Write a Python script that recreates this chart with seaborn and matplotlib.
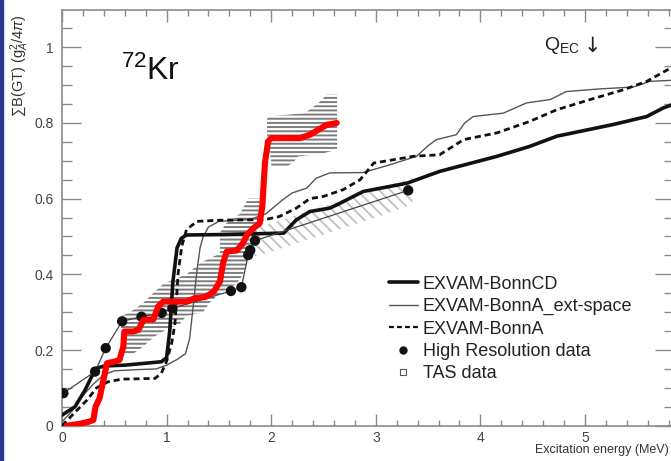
import numpy as np
import pandas as pd
import matplotlib
matplotlib.use("Agg")
import matplotlib.pyplot as plt
import seaborn as sns
from matplotlib.lines import Line2D
from matplotlib.patches import Rectangle

# ---------------- data ----------------
# TAS data (red curve)
tas_x = [0.045, 0.17, 0.25, 0.30, 0.32, 0.36, 0.395, 0.43, 0.51, 0.55, 0.586, 0.596, 0.68, 0.73,
         0.78, 0.873, 0.92, 0.968, 1.19, 1.27, 1.37, 1.45, 1.51, 1.54, 1.575, 1.67, 1.73, 1.766,
         1.83, 1.89, 1.915, 1.94, 1.97, 2.0, 2.275, 2.37, 2.45, 2.53, 2.626]
tas_y = [0.0, 0.005, 0.01, 0.015, 0.05, 0.073, 0.12, 0.165, 0.17, 0.174, 0.209, 0.249, 0.249, 0.253,
         0.28, 0.281, 0.315, 0.328, 0.328, 0.337, 0.34, 0.354, 0.381, 0.43, 0.46, 0.463, 0.482, 0.504,
         0.522, 0.535, 0.579, 0.694, 0.751, 0.76, 0.76, 0.769, 0.782, 0.795, 0.80]

# TAS error band (lower part): y levels with left / right limits
band1_y = [0.19, 0.21, 0.235, 0.255, 0.27, 0.29, 0.30, 0.325, 0.35, 0.375, 0.40, 0.43, 0.455,
           0.48, 0.51, 0.535, 0.56, 0.585, 0.60]
band1_xl = [0.59, 0.60, 0.60, 0.57, 0.55, 0.57, 0.65, 0.78, 0.87, 0.97, 1.19, 1.32, 1.51,
            1.51, 1.51, 1.57, 1.70, 1.75, 1.78]
band1_xr = [0.68, 0.78, 0.88, 1.0, 1.13, 1.19, 1.35, 1.41, 1.51, 1.67, 1.73, 1.77, 1.77,
            1.85, 1.86, 1.86, 1.89, 1.93, 1.96]
# TAS error band (upper part)
band2_y = [0.685, 0.698, 0.711, 0.72, 0.73, 0.81, 0.817, 0.826, 0.848, 0.86, 0.875]
band2_xl = [2.0, 2.0, 1.99, 2.0, 1.96, 1.96, 1.97, 2.32, 2.43, 2.48, 2.53]
band2_xr = [2.15, 2.22, 2.25, 2.5, 2.63, 2.63, 2.63, 2.63, 2.63, 2.63, 2.63]

# High resolution data band (diagonal hatch)
hrband_x = [1.75, 2.0, 2.5, 3.0, 3.35]
hrband_lo = [0.44, 0.46, 0.505, 0.55, 0.585]
hrband_hi = [0.52, 0.535, 0.58, 0.625, 0.655]

# High resolution data
hr_x = [0.013, 0.316, 0.418, 0.575, 0.76, 0.953, 1.055, 1.615, 1.715, 1.78, 1.80, 1.845, 3.31]
hr_y = [0.086, 0.143, 0.205, 0.276, 0.288, 0.298, 0.31, 0.356, 0.366, 0.451, 0.464, 0.489, 0.622]

# EXVAM-BonnCD
cd_x = [0, 0.124, 0.22, 0.284, 0.33, 0.41, 0.6, 0.95, 1.0, 1.03, 1.06, 1.1, 1.14, 1.19, 1.5,
        2.12, 2.24, 2.37, 2.56, 2.63, 2.88, 3.3, 3.61, 4.16, 4.47, 4.73, 5.27, 5.59, 5.75, 5.85]
cd_y = [0.028, 0.05, 0.094, 0.13, 0.152, 0.158, 0.16, 0.169, 0.18, 0.25, 0.38, 0.47, 0.495,
        0.504, 0.505, 0.509, 0.544, 0.566, 0.575, 0.584, 0.619, 0.641, 0.672, 0.712, 0.738,
        0.765, 0.796, 0.817, 0.84, 0.85]

# EXVAM-BonnA_ext-space
ext_x = [0, 0.1, 0.2, 0.3, 0.4, 0.5, 0.7, 0.9, 1.0, 1.1, 1.18, 1.22, 1.26, 1.29, 1.32, 1.35,
         1.4, 1.5, 1.8, 1.95, 2.1, 2.2, 2.34, 2.43, 2.56, 2.88, 3.14, 3.39, 3.5, 3.58, 3.77,
         3.85, 3.93, 4.22, 4.44, 4.67, 4.82, 5.14, 5.46, 5.62, 5.85]
ext_y = [0.01, 0.04, 0.08, 0.11, 0.135, 0.145, 0.148, 0.15, 0.16, 0.175, 0.19, 0.23, 0.33,
         0.41, 0.47, 0.5, 0.525, 0.54, 0.545, 0.56, 0.595, 0.615, 0.628, 0.654, 0.668, 0.669,
         0.69, 0.712, 0.74, 0.756, 0.769, 0.80, 0.817, 0.826, 0.853, 0.862, 0.883, 0.89, 0.895,
         0.91, 0.913]

# EXVAM-BonnA
ba_x = [0, 0.07, 0.14, 0.24, 0.33, 0.44, 0.57, 0.89, 0.95, 1.0, 1.05, 1.08, 1.11, 1.145, 1.19,
        1.29, 1.5, 1.77, 1.93, 2.08, 2.24, 2.37, 2.5, 2.69, 2.85, 2.98, 3.36, 3.61, 3.84, 4.16,
        4.47, 4.73, 5.05, 5.37, 5.59, 5.85]
ba_y = [0.0, 0.02, 0.04, 0.068, 0.1, 0.116, 0.123, 0.125, 0.139, 0.17, 0.22, 0.27, 0.403,
        0.474, 0.518, 0.54, 0.543, 0.544, 0.544, 0.553, 0.575, 0.60, 0.606, 0.624, 0.65, 0.694,
        0.712, 0.716, 0.756, 0.774, 0.804, 0.835, 0.862, 0.888, 0.91, 0.95]

legend_labels = ["EXVAM-BonnCD", "EXVAM-BonnA_ext-space", "EXVAM-BonnA",
                 "High Resolution data", "TAS data"]
x_ticks = [0, 1, 2, 3, 4, 5]
x_ticklabels = ["0", "1", "2", "3", "4", "5"]
y_ticks = [0, 0.2, 0.4, 0.6, 0.8, 1.0]
y_ticklabels = ["0", "0.2", "0.4", "0.6", "0.8", "1"]

# ---------------- style ----------------
sns.set_theme(style="white")
plt.rcParams["font.family"] = ["Liberation Sans", "DejaVu Sans"]
plt.rcParams["mathtext.fontset"] = "custom"
plt.rcParams["mathtext.rm"] = "Liberation Sans"
plt.rcParams["mathtext.it"] = "Liberation Sans:italic"
plt.rcParams["mathtext.bf"] = "Liberation Sans:bold"
plt.rcParams["hatch.linewidth"] = 1.4

W, H = 671, 461
fig = plt.figure(figsize=(W / 100, H / 100), dpi=100)
x0_px, x5_px = 62, 585
ppm = (x5_px - x0_px) / 5.0
right_px = 674
y0_px, y1_px, top_px = 425.7, 47.3, 10
ppu = y0_px - y1_px
ax = fig.add_axes([x0_px / W, (H - y0_px) / H, (right_px - x0_px) / W, (y0_px - top_px) / H])
xmax = (right_px - x0_px) / ppm
ymax = (y0_px - top_px) / ppu
ax.set_xlim(0, xmax)
ax.set_ylim(0, ymax)

# hatched bands
ax.fill_betweenx(band1_y, band1_xl, band1_xr, facecolor="none", edgecolor="#7c7c7c",
                 hatch="----", linewidth=0, zorder=1)
ax.fill_betweenx(band2_y, band2_xl, band2_xr, facecolor="none", edgecolor="#7c7c7c",
                 hatch="----", linewidth=0, zorder=1)
ax.fill_between(hrband_x, hrband_lo, hrband_hi, facecolor="none", edgecolor="#c4c4c4",
                hatch="\\\\\\", linewidth=0, zorder=1)

# model curves
sns.lineplot(x=ext_x, y=ext_y, ax=ax, color="#555555", lw=1.0, estimator=None, sort=False, zorder=3)
sns.lineplot(x=ba_x, y=ba_y, ax=ax, color="#111111", lw=2.0, linestyle=(0, (2.2, 1.4)),
             estimator=None, sort=False, zorder=3)
sns.lineplot(x=cd_x, y=cd_y, ax=ax, color="#111111", lw=2.6, estimator=None, sort=False, zorder=4)

# high resolution data
sns.lineplot(x=hr_x, y=hr_y, ax=ax, color="#444444", lw=0.9, estimator=None, sort=False, zorder=4)
sns.scatterplot(x=hr_x, y=hr_y, ax=ax, color="#111111", s=55, edgecolor="none", zorder=5)

# TAS red curve
sns.lineplot(x=tas_x, y=tas_y, ax=ax, color="#ff0000", lw=4.4, estimator=None, sort=False,
             zorder=6, solid_capstyle="round", solid_joinstyle="round")

# axes / ticks
for s in ax.spines.values():
    s.set_color("#8a8a8a")
    s.set_linewidth(1.2)
ax.set_xticks(x_ticks, x_ticklabels)
ax.set_yticks(y_ticks, y_ticklabels)
ax.set_xticks(np.arange(0, xmax, 0.2), minor=True)
ax.set_yticks(np.arange(0, ymax, 0.05), minor=True)
ax.tick_params(axis="x", which="major", direction="in", length=8.6, width=1.0, color="#8a8a8a",
               top=True, bottom=True, labelsize=10, labelcolor="#444444", pad=4)
ax.tick_params(axis="x", which="minor", direction="in", length=4.3, width=1.0, color="#8a8a8a",
               top=True, bottom=True)
ax.tick_params(axis="y", which="major", direction="in", length=13.5, width=1.0, color="#8a8a8a",
               left=True, right=True, labelsize=10, labelcolor="#444444", pad=6)
ax.tick_params(axis="y", which="minor", direction="in", length=7, width=1.0, color="#8a8a8a",
               left=True, right=True)
ax.set_xlabel("Excitation energy (MeV)", fontsize=9, color="#333333", ha="right")
ax.xaxis.set_label_coords((669 - x0_px) / (right_px - x0_px), -0.045)
ax.set_ylabel("")

# annotations
fig.text(20 / W, 1 - 14 / H, r"$\sum$B(GT) (g$_{A}^{2}$/4$\pi$)", rotation=90, ha="center",
         va="top", fontsize=10.5, color="#333333")
ax.text((121 - x0_px) / ppm, (y0_px - 80) / ppu, r"$^{72}$Kr", fontsize=23, color="#111111",
        ha="left", va="baseline")
ax.text((544 - x0_px) / ppm, (y0_px - 50) / ppu, r"Q$_{\mathrm{EC}}$", fontsize=14,
        color="#222222", ha="left", va="baseline")
ax.text((584 - x0_px) / ppm, (y0_px - 52) / ppu, "\u2193", fontsize=15, color="#222222",
        ha="left", va="baseline", family=["DejaVu Sans"])

# legend
handles = [
    Line2D([], [], color="#111111", lw=2.6),
    Line2D([], [], color="#555555", lw=1.0),
    Line2D([], [], color="#111111", lw=1.6, linestyle=(0, (2.2, 1.4))),
    Line2D([], [], color="#111111", lw=0, marker="o", markersize=5),
    Line2D([], [], color="#555555", lw=0, marker="s", markersize=5, markerfacecolor="white",
           markeredgewidth=0.8),
]
leg = ax.legend(handles, legend_labels, loc="upper left",
                bbox_to_anchor=(376 / W, 1 - 263 / H), bbox_transform=fig.transFigure,
                frameon=False, fontsize=13, handlelength=1.6, handletextpad=0.28,
                labelspacing=0.3, borderpad=0.2)
for t in leg.get_texts():
    t.set_color("#222222")

# left frame border of the slide
fig.add_artist(Rectangle((0, 0), 2.5 / W, 1, transform=fig.transFigure, color="#2b3990",
                         zorder=10))

fig.savefig("out.png", dpi=100)
